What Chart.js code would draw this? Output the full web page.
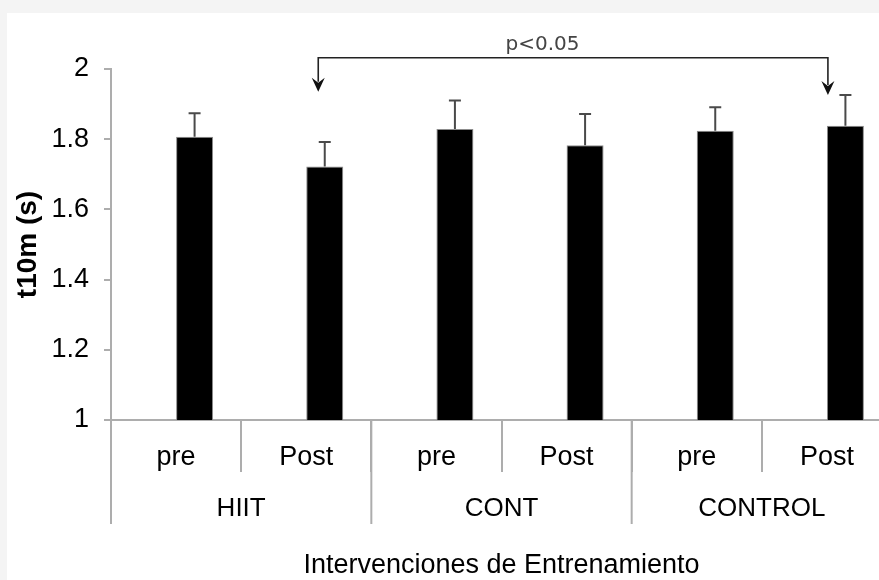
<!DOCTYPE html>
<html>
<head>
<meta charset="utf-8">
<script src="https://cdn.jsdelivr.net/npm/chart.js@4.4.1/dist/chart.umd.min.js"></script>
<style>
  html, body { margin: 0; padding: 0; width: 879px; height: 580px; overflow: hidden; background: #f4f4f4; }
  #wrap { position: absolute; left: 7px; top: 13px; width: 886px; height: 567px; background: #fff; }
</style>
</head>
<body>
<div id="wrap"><canvas id="t10mChart" width="886" height="567"></canvas></div>
<script>
const labels = ['pre', 'Post', 'pre', 'Post', 'pre', 'Post'];
const groups = ['HIIT', 'CONT', 'CONTROL'];
const t10mMeans = [1.807, 1.722, 1.829, 1.783, 1.824, 1.838];
const t10mErrors = [0.067, 0.070, 0.081, 0.089, 0.067, 0.088];
const spacerSeries = [null, null, null, null, null, null]; // empty first series, bars sit right of centre
const yTicks = [1, 1.2, 1.4, 1.6, 1.8, 2];
const yTickLabels = ['1', '1.2', '1.4', '1.6', '1.8', '2'];

const axisGray = '#adadad';
const font = '"Liberation Sans", Arial, sans-serif';

// error bars, group labels and the p<0.05 bracket
const extras = {
    id: 'extras',
    afterDraw(chart) {
        const ctx = chart.ctx;
        const x = chart.scales.x;
        const y = chart.scales.y;
        const bars = chart.getDatasetMeta(1).data;
        const catW = (x.right - x.left) / labels.length;
        ctx.save();

        // error bars (upper half only)
        ctx.strokeStyle = '#4a4a4a';
        ctx.lineWidth = 2;
        bars.forEach((bar, i) => {
            const top = y.getPixelForValue(t10mMeans[i] + t10mErrors[i]);
            ctx.beginPath();
            ctx.moveTo(bar.x, bar.y);
            ctx.lineTo(bar.x, top);
            ctx.moveTo(bar.x - 6, top);
            ctx.lineTo(bar.x + 6, top);
            ctx.stroke();
        });

        // long separators + group names
        ctx.strokeStyle = axisGray;
        ctx.lineWidth = 2;
        ctx.fillStyle = '#000';
        ctx.font = '26px ' + font;
        ctx.textAlign = 'center';
        ctx.textBaseline = 'middle';
        groups.forEach((g, k) => {
            const left = x.left + k * 2 * catW;
            ctx.beginPath();
            ctx.moveTo(left, x.top);
            ctx.lineTo(left, x.top + 104);
            ctx.stroke();
            ctx.fillText(g, left + catW, x.top + 89);
        });

        // significance bracket
        const xL = bars[1].x - 6.5;
        const xR = bars[5].x - 17.5;
        const lineY = y.getPixelForValue(2.032);
        const tips = [[xL, y.getPixelForValue(1.935)], [xR, y.getPixelForValue(1.926)]];
        ctx.strokeStyle = '#222';
        ctx.fillStyle = '#111';
        ctx.lineWidth = 1.6;
        ctx.beginPath();
        ctx.moveTo(xL, tips[0][1] - 10);
        ctx.lineTo(xL, lineY);
        ctx.lineTo(xR, lineY);
        ctx.lineTo(xR, tips[1][1] - 10);
        ctx.stroke();
        tips.forEach(([tx, ty]) => {
            ctx.beginPath();
            ctx.moveTo(tx, ty);
            ctx.lineTo(tx - 6.5, ty - 14);
            ctx.lineTo(tx, ty - 9);
            ctx.lineTo(tx + 6.5, ty - 14);
            ctx.closePath();
            ctx.fill();
        });
        ctx.fillStyle = '#444';
        ctx.font = '20px "DejaVu Sans", sans-serif';
        ctx.fillText('p<0.05', xL + (xR - xL) * 0.44, y.getPixelForValue(2.07));

        ctx.restore();
    }
};

const ctx = document.getElementById('t10mChart').getContext('2d');
const t10mChart = new Chart(ctx, {
    type: 'bar',
    data: {
        labels: labels,
        datasets: [
            {
                data: spacerSeries,
                backgroundColor: 'rgba(0,0,0,0)',
            },
            {
                label: 't10m',
                data: t10mMeans,
                backgroundColor: '#000',
                borderColor: '#8c8c8c',
                borderWidth: 1,
            },
        ],
    },
    options: {
        responsive: false,
        devicePixelRatio: 1,
        animation: false,
        layout: {
            padding: { top: 56, right: 1, left: 0, bottom: 0 },
        },
        categoryPercentage: 0.5685,
        barPercentage: 1,
        plugins: {
            legend: { display: false },
            tooltip: { enabled: false },
        },
        scales: {
            x: {
                afterFit: (scale) => { scale.height = 160; },
                grid: {
                    offset: true,
                    drawOnChartArea: false,
                    tickLength: 52,
                    color: axisGray,
                    lineWidth: 2,
                },
                border: { color: axisGray, width: 2 },
                ticks: {
                    color: '#000',
                    font: { family: font, size: 27 },
                    padding: -31,
                },
                title: {
                    display: true,
                    text: 'Intervenciones de Entrenamiento',
                    color: '#000',
                    font: { family: font, size: 27, lineHeight: 1 },
                    padding: { top: 0, bottom: 0.5 },
                },
            },
            y: {
                min: 1,
                max: 2,
                afterFit: (scale) => { scale.width = 104; },
                afterBuildTicks: (scale) => { scale.ticks = yTicks.map(v => ({ value: v })); },
                grid: {
                    drawOnChartArea: false,
                    tickLength: 7,
                    color: axisGray,
                    lineWidth: 2,
                },
                border: { color: axisGray, width: 2 },
                ticks: {
                    color: '#000',
                    font: { family: font, size: 27 },
                    padding: 15,
                    callback: (value, i) => yTickLabels[i],
                },
                title: {
                    display: true,
                    text: 't10m (s)',
                    color: '#000',
                    font: { family: font, size: 28, weight: 'bold' },
                    padding: { top: 4, bottom: 0 },
                },
            },
        },
    },
    plugins: [extras],
});
</script>
</body>
</html>
